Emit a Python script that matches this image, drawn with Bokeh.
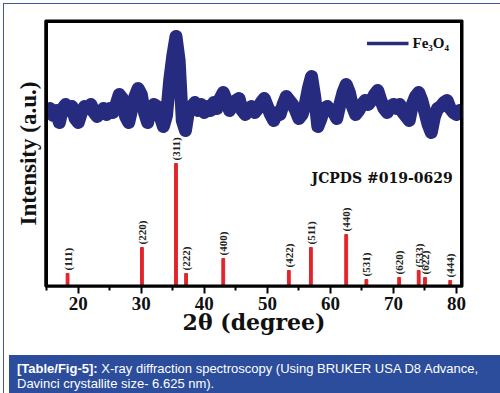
import math
from bokeh.plotting import figure
from bokeh.models import Range1d, FixedTicker, Div, Label, Legend, LegendItem
from bokeh.layouts import column
from bokeh.core.properties import value
from bokeh.embed import file_html
from bokeh.resources import INLINE

# ---- data ----
two_theta = [15.0, 15.5, 16.0, 16.5, 17.0, 17.5, 18.0, 18.5, 19.0, 19.5,
             20.0, 20.5, 21.0, 21.5, 22.0, 22.5, 23.0, 23.5, 24.0, 24.5,
             25.0, 25.5, 26.0, 26.5, 27.0, 27.5, 28.0, 28.5, 29.0, 29.5,
             30.0, 30.5, 31.0, 31.5, 32.0, 32.5, 33.0, 33.5, 34.0, 34.5,
             35.0, 35.5, 36.0, 36.5, 37.0, 37.5, 38.0, 38.5, 39.0, 39.5,
             40.0, 40.5, 41.0, 41.5, 42.0, 42.5, 43.0, 43.5, 44.0, 44.5,
             45.0, 45.5, 46.0, 46.5, 47.0, 47.5, 48.0, 48.5, 49.0, 49.5,
             50.0, 50.5, 51.0, 51.5, 52.0, 52.5, 53.0, 53.5, 54.0, 54.5,
             55.0, 55.5, 56.0, 56.5, 57.0, 57.5, 58.0, 58.5, 59.0, 59.5,
             60.0, 60.5, 61.0, 61.5, 62.0, 62.5, 63.0, 63.5, 64.0, 64.5,
             65.0, 65.5, 66.0, 66.5, 67.0, 67.5, 68.0, 68.5, 69.0, 69.5,
             70.0, 70.5, 71.0, 71.5, 72.0, 72.5, 73.0, 73.5, 74.0, 74.5,
             75.0, 75.5, 76.0, 76.5, 77.0, 77.5, 78.0, 78.5, 79.0, 79.5,
             80.0, 80.5, 81.0]
intensity = [173, 178, 171, 176, 164, 178, 182, 176, 180, 168,
             164, 174, 180, 178, 182, 174, 170, 174, 178, 172,
             178, 174, 182, 192, 188, 170, 164, 178, 190, 198,
             192, 174, 164, 178, 182, 180, 170, 160, 171, 206,
             231, 250, 226, 166, 156, 176, 180, 184, 176, 182,
             174, 180, 176, 184, 178, 188, 194, 186, 176, 182,
             186, 188, 176, 172, 178, 180, 174, 178, 184, 188,
             180, 172, 166, 174, 172, 182, 190, 186, 182, 176,
             168, 172, 182, 198, 210, 190, 160, 168, 178, 180,
             176, 174, 168, 182, 194, 202, 194, 180, 172, 176,
             182, 186, 182, 186, 192, 196, 186, 178, 174, 180,
             182, 178, 182, 174, 170, 166, 182, 190, 194, 186,
             174, 162, 154, 170, 178, 180, 184, 186, 178, 174,
             172, 176, 170]

peak_pos = [18.3, 30.1, 35.5, 37.1, 43.0, 53.4, 56.9, 62.5, 65.7, 70.9, 74.0, 75.0, 79.0]
peak_hgt = [13, 39, 123, 13, 28, 16, 39, 52, 7, 9, 16, 9, 6]
peak_hkl = ["(111)", "(220)", "(311)", "(222)", "(400)", "(422)", "(511)",
            "(440)", "(531)", "(620)", "(533)", "(622)", "(444)"]

x_major = [20, 30, 40, 50, 60, 70, 80]
x_minor = [15, 25, 35, 45, 55, 65, 75]
x_lo, x_hi = 14.8, 80.95
y_lo, y_hi = 0, 266

NAVY = "#272b7f"
RED = "#e3242b"
BAND = "#2b4d9b"
INK = "#111111"

p = figure(width=491, height=346, x_range=Range1d(x_lo, x_hi), y_range=Range1d(y_lo, y_hi),
           output_backend="svg", toolbar_location=None,
           min_border_left=41, min_border_right=33, min_border_top=16, min_border_bottom=64)
p.xgrid.visible = False
p.ygrid.visible = False
p.outline_line_color = "black"
p.outline_line_width = 2
p.background_fill_color = "white"
p.border_fill_color = "white"

xa = p.xaxis[0]
xa.ticker = FixedTicker(ticks=x_major, minor_ticks=x_minor)
xa.axis_line_width = 2
xa.axis_line_color = "black"
xa.major_tick_out = 7
xa.major_tick_in = 0
xa.major_tick_line_width = 2
xa.minor_tick_out = 4
xa.minor_tick_in = 0
xa.minor_tick_line_width = 2
xa.major_label_text_font = "Liberation Serif"
xa.major_label_text_font_style = "bold"
xa.major_label_text_font_size = "19px"
xa.major_label_text_color = INK
xa.major_label_standoff = 3
xa.axis_label = "2θ (degree)"
xa.axis_label_text_font = "DejaVu Serif"
xa.axis_label_text_font_style = "bold"
xa.axis_label_text_font_size = "22px"
xa.axis_label_text_color = INK
xa.axis_label_standoff = -4

ya = p.yaxis[0]
ya.ticker = FixedTicker(ticks=[])
ya.axis_line_width = 2
ya.axis_line_color = "black"
ya.major_tick_out = 0
ya.major_tick_in = 0
ya.minor_tick_out = 0
ya.minor_tick_in = 0
ya.major_label_standoff = 0
ya.axis_label = "Intensity (a.u.)"
ya.axis_label_text_font = "Liberation Serif"
ya.axis_label_text_font_style = "bold"
ya.axis_label_text_font_size = "23px"
ya.axis_label_text_color = INK
ya.axis_label_standoff = 5

# XRD pattern
p.line(two_theta, intensity, line_width=13, color=NAVY, line_join="round")

# reference bars
p.vbar(x=peak_pos, top=peak_hgt, bottom=0, width=0.45, color=RED)
p.text(x=peak_pos, y=[h + 3 for h in peak_hgt], text=peak_hkl, angle=math.pi / 2,
       text_align="left", text_baseline="middle",
       text_font=value("Liberation Serif"), text_font_style="bold",
       text_font_size="11px", text_color="#222222")

# frame drawn as thin filled strips along the plotting-area edges
dx = 2.5 * (x_hi - x_lo) / 417.0
dy = 2.5 * (y_hi - y_lo) / 266.0
p.quad(left=[x_lo, x_hi - dx, x_lo, x_lo],
       right=[x_lo + dx, x_hi, x_hi, x_hi],
       bottom=[y_lo, y_lo, y_hi - dy, y_lo],
       top=[y_hi, y_hi, y_hi, y_lo + dy * 0.8],
       fill_color="black", line_color=None)

# legend (sample renderer lies outside the visible range)
dummy = p.line([0, 1], [-50, -50], line_width=3.5, color=NAVY)
leg = Legend(items=[LegendItem(label="Fe₃O₄", renderers=[dummy])],
             location="top_right", border_line_color=None, background_fill_alpha=0,
             glyph_width=42, glyph_height=20, label_height=20, label_standoff=4,
             padding=0, margin=13,
             label_text_font="Liberation Serif", label_text_font_style="bold",
             label_text_font_size="15px", label_text_color=INK)
p.add_layout(leg)

p.add_layout(Label(x=79.4, y=109, text="JCPDS #019-0629", text_align="right",
                   text_baseline="middle", text_font="DejaVu Serif",
                   text_font_style="bold", text_font_size="14px", text_color=INK))

cap = Div(text='<b>[Table/Fig-5]:</b> X-ray diffraction spectroscopy (Using BRUKER USA D8 Advance,<br>'
               'Davinci crystallite size- 6.625 nm).',
          width=491, height=39,
          styles={"background-color": BAND, "color": "white",
                  "font-family": "Liberation Sans, Arial, sans-serif",
                  "font-size": "13px", "line-height": "15px",
                  "padding": "6px 0px 0px 8px", "box-sizing": "border-box"})

layout = column(p, cap, styles={"border": "1px solid #3b5a9a",
                                "margin-left": "3px", "margin-top": "3px"})

open("out.html", "w").write(file_html(layout, INLINE))
